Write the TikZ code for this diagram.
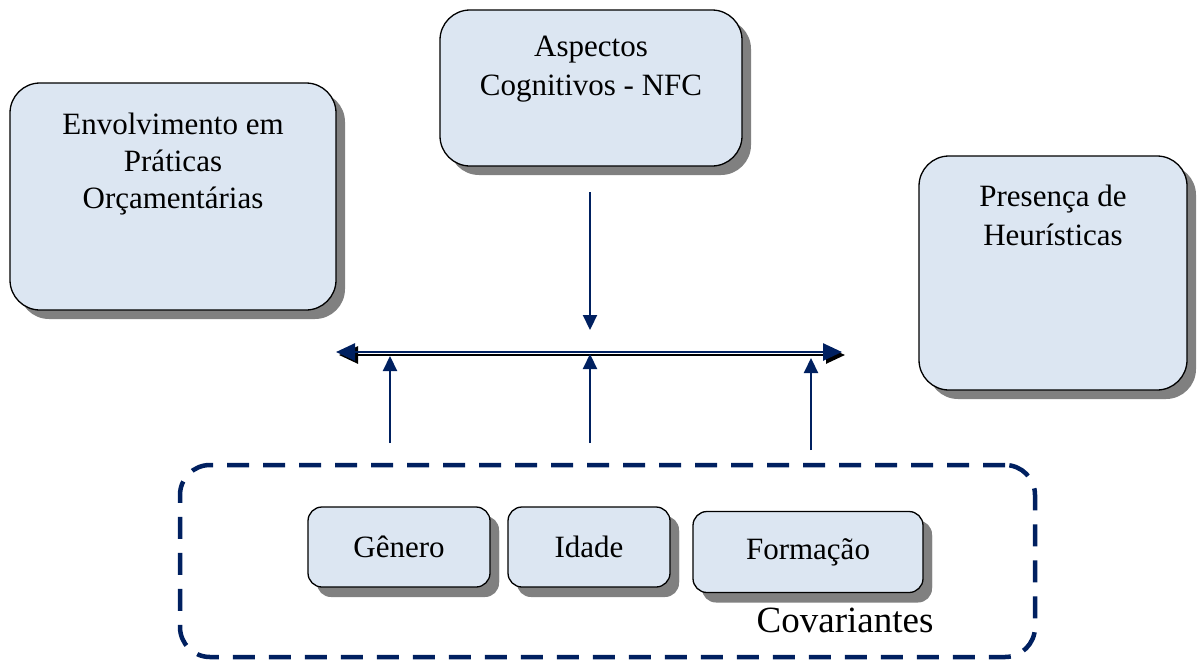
\documentclass[tikz,border=0pt]{standalone}
\usepackage{fontspec}
\setmainfont{Liberation Serif}
\usetikzlibrary{positioning,shadows,arrows.meta}
\definecolor{boxfill}{RGB}{220,230,242}
\definecolor{navy}{RGB}{0,32,96}
\definecolor{shade}{RGB}{128,128,128}
\tikzset{
  block/.style={draw=black, line width=1.3pt, fill=boxfill, rounded corners=30pt,
    copy shadow={shadow xshift=9pt, shadow yshift=-9pt, fill=shade, draw=none}},
  smallblock/.style={block, rounded corners=14pt, font=\fontsize{31}{36}\selectfont,
    copy shadow={shadow xshift=9pt, shadow yshift=-10pt, fill=shade, draw=none}},
  boxtext/.style={align=center, font=\fontsize{31}{37}\selectfont, inner sep=0pt},
  link/.style={navy, line width=2.2pt, -{Triangle[length=15pt,width=14pt]}},
  twoway/.style={line width=2.6pt, {Triangle[length=19pt,width=17pt]}-{Triangle[length=19pt,width=17pt]}},
}
\begin{document}
\begin{tikzpicture}[x=1pt, y=-1pt]
\useasboundingbox (0,0) rectangle (1199,659);
% caixas principais
\node[block, minimum width=326pt, minimum height=227pt] (env) at (173,196.5) {};
\node[boxtext, below=30pt of env.north] {Envolvimento em\\Práticas\\Orçamentárias};
\node[block, minimum width=302pt, minimum height=156pt] (nfc) at (591,88) {};
\node[boxtext, font=\fontsize{31}{39}\selectfont, below=26pt of nfc.north] {Aspectos\\Cognitivos - NFC};
\node[block, minimum width=268pt, minimum height=234pt] (heur) at (1053,273) {};
\node[boxtext, font=\fontsize{31}{39}\selectfont, below=29pt of heur.north] {Presença de\\Heurísticas};
% covariantes
\node[draw=navy, line width=4.5pt, dash pattern=on 22pt off 14pt, rounded corners=30pt,
  minimum width=855pt, minimum height=192pt] (cov) at (607.5,561) {};
\node[smallblock, minimum width=182pt, minimum height=80pt] (gen) at (399,547) {Gênero};
\node[smallblock, minimum width=162pt, minimum height=80pt] (ida) at (589,547) {Idade};
\node[smallblock, minimum width=230pt, minimum height=81pt] (for) at (808,552) {Formação};
\node[font=\fontsize{37}{40}\selectfont, inner sep=0pt] (covlab) at (845,620) {Covariantes};
% setas
\coordinate (top) at (590,192);
\coordinate (mid) at (590,330);
\coordinate (lft) at (336,352);
\coordinate (rgt) at (842,352);
\coordinate (u1a) at (390,443);
\coordinate (u1b) at (390,356);
\coordinate (u2a) at (590,443);
\coordinate (u2b) at (590,354);
\coordinate (u3a) at (811,450);
\coordinate (u3b) at (811,358);
\draw[link] (top) -- (mid);
\draw[twoway, shade] ([shift={(3,3)}]lft) -- ([shift={(3,3)}]rgt);
\draw[twoway, navy] (lft) -- (rgt);
\draw[link] (u1a) -- (u1b);
\draw[link] (u2a) -- (u2b);
\draw[link] (u3a) -- (u3b);
\end{tikzpicture}
\end{document}
